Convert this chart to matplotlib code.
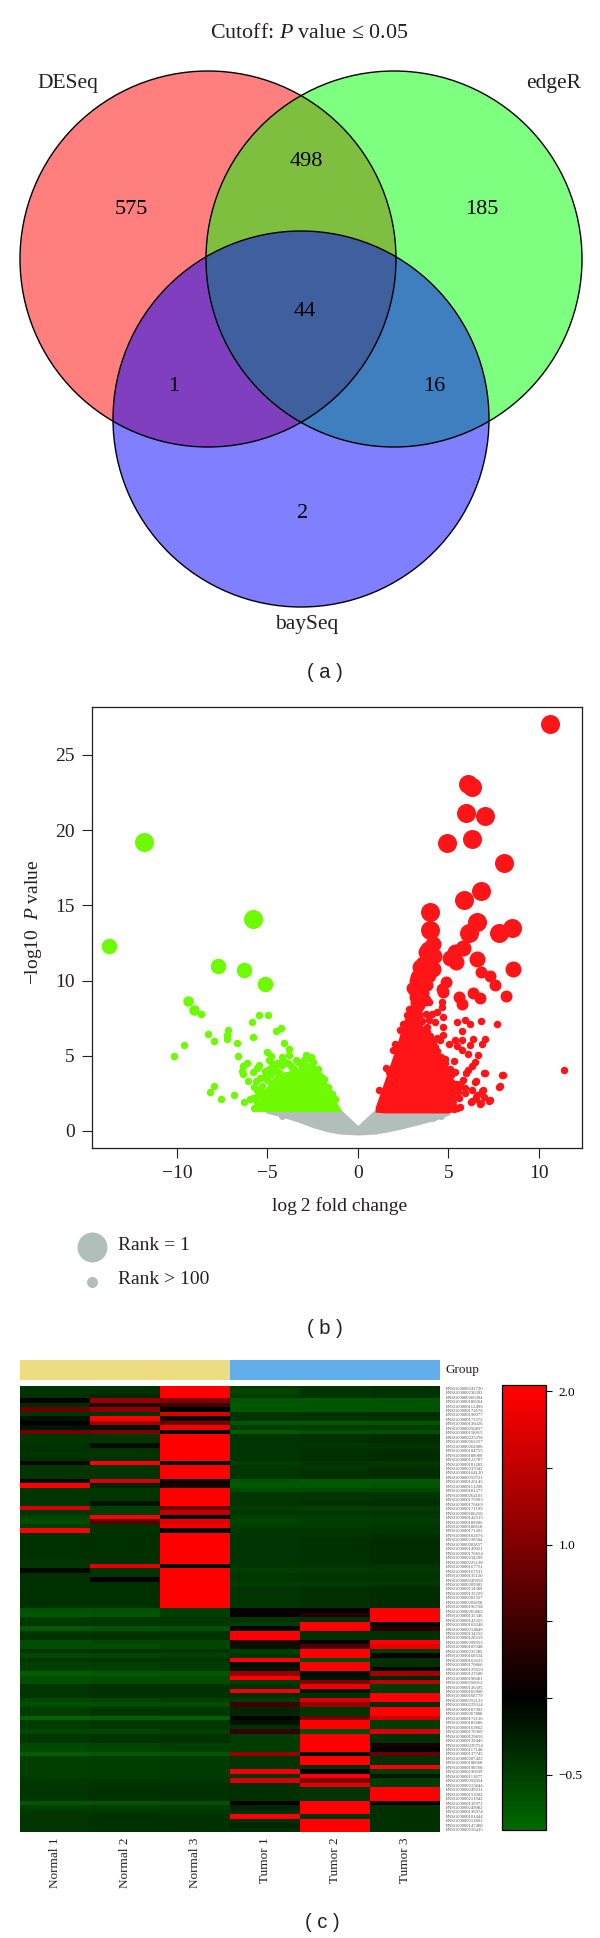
import numpy as np
import matplotlib
matplotlib.use("Agg")
import matplotlib.pyplot as plt
from matplotlib.patches import Circle
from matplotlib.colors import LinearSegmentedColormap, Normalize
from matplotlib.cm import ScalarMappable

plt.rcParams["font.family"] = ["Liberation Serif", "DejaVu Sans"]
plt.rcParams["mathtext.fontset"] = "custom"
plt.rcParams["mathtext.rm"] = "Liberation Serif"
plt.rcParams["mathtext.it"] = "Liberation Serif:italic"
plt.rcParams["mathtext.bf"] = "Liberation Serif:bold"
plt.rcParams["text.color"] = "#231F20"

# =========================
# Data (a) venn counts
# =========================
venn_names = ["DESeq", "edgeR", "baySeq"]
venn_counts = [575, 498, 185, 44, 1, 16, 2]

# =========================
# Data (b) volcano
# =========================
gray_x = [-5.1, -4.25, -3.2, -2.55, -1.7, -1.0, 0.0, 1.0, 1.7, 2.55, 3.6, 4.25, 5.1]
gray_top = [1.4, 1.4, 1.4, 1.4, 1.4, 1.5, 0.37, 1.5, 1.4, 1.4, 1.4, 1.4, 1.4]
gray_low = [1.2, 0.95, 0.55, 0.25, -0.05, -0.2, -0.27, -0.2, -0.05, 0.17, 0.5, 0.7, 1.1]
gray_extra_x = [-4.2, 4.15, 4.6]
gray_extra_y = [1.0, 0.85, 1.0]

green_x = [-5.64, -5.32, -4.89, -4.47, -3.94, -3.4, -2.77, -2.23, -1.81, -1.38, -0.96]
green_top = [1.58, 2.42, 3.27, 3.83, 3.97, 4.11, 4.54, 3.97, 2.99, 2.28, 1.49]
green_low = [1.3, 1.3, 1.3, 1.3, 1.3, 1.3, 1.3, 1.3, 1.3, 1.3, 1.3]

green_big_x = [-11.81, -5.81]
green_big_y = [19.24, 14.11]
green_mid_x = [-13.75, -7.72, -6.28, -5.15]
green_mid_y = [12.28, 10.96, 10.73, 9.8]
green_low_x = [-9.38, -9.07]
green_low_y = [8.64, 8.06]
green_small_x = [-8.68, -5.84, -5.48, -4.98, -8.26, -7.17, -7.25, -7.25, -7.95, -9.62, -10.16,
                 -6.66, -6.64, -5.79, -4.52, -4.22, -4.06, -3.78, -5.0, -4.78, -4.89, -3.82,
                 -2.86, -2.99, -4.17, -4.46, -6.1, -6.36, -6.4, -6.34, -5.81, -5.6, -5.44,
                 -6.07, -5.72, -7.95, -8.2, -7.58, -6.86, -6.29, -5.94, -5.2, -4.9, -3.55,
                 -5.5, -5.3, -4.6, -4.2, -3.7, -3.1, -2.5, -2.35, -1.95, -1.6, -5.75, -5.55,
                 -5.65, -5.4, -5.6, -5.25, -5.0, -4.85, -5.15, -4.7, -4.4, -4.05, -3.85, -3.4,
                 -3.2, -2.75, -2.6, -2.2, -2.05, -1.85, -1.65, -1.45, -1.25, -2.95, -3.3, -4.75,
                 -5.45, -5.8, -5.35, -4.35, -3.6, -2.7, -2.45, -2.15]
green_small_y = [7.77, 7.26, 7.69, 7.71, 6.45, 6.73, 6.38, 6.11, 5.96, 5.71, 4.98,
                 5.82, 5.0, 6.22, 6.62, 6.87, 5.87, 5.43, 5.27, 5.0, 4.7, 5.05,
                 5.03, 4.72, 4.89, 4.5, 4.54, 4.34, 4.01, 3.77, 3.94, 4.16, 4.39,
                 3.32, 2.95, 3.01, 2.61, 2.1, 2.39, 1.93, 2.13, 3.6, 4.1, 4.15,
                 2.4, 3.0, 4.3, 4.4, 4.3, 4.35, 4.2, 3.9, 3.2, 2.6, 1.5, 1.9,
                 3.35, 3.55, 2.75, 2.5, 3.4, 3.75, 4.0, 3.95, 4.55, 4.6, 4.55, 4.7,
                 4.5, 4.85, 4.95, 4.15, 3.6, 3.45, 2.9, 2.45, 2.1, 4.4, 4.6, 4.45,
                 1.75, 2.2, 1.6, 3.9, 4.05, 4.35, 4.6, 3.7]

red_x = [0.96, 1.49, 2.13, 2.55, 3.09, 3.36, 3.6, 4.09, 4.46, 5.0, 5.3, 5.45]
red_top = [1.58, 3.41, 5.66, 7.35, 8.99, 9.4, 7.0, 5.8, 5.14, 4.25, 3.2, 2.2]
red_low = [1.25, 1.2, 1.2, 1.2, 1.2, 1.2, 1.2, 1.2, 1.2, 1.2, 1.3, 1.5]

red_big_x = [10.64, 6.09, 6.34, 5.98, 7.06, 6.34, 4.91, 8.11, 6.79, 5.85, 3.98, 6.62, 4.02, 6.15, 7.83, 8.55]
red_big_y = [27.07, 23.07, 22.85, 21.13, 20.96, 19.4, 19.13, 17.83, 15.97, 15.32, 14.54, 13.86, 13.35, 13.13, 13.18, 13.52]
red_mid_x = [4.18, 3.91, 4.24, 3.82, 3.63, 4.15, 3.54, 3.35, 5.81, 5.38, 5.11, 5.44, 6.6, 8.57,
             3.75, 3.45, 3.3, 3.9, 3.6, 3.4]
red_mid_y = [12.4, 12.11, 11.6, 11.34, 11.12, 10.79, 10.68, 10.23, 12.18, 11.89, 11.52, 11.23, 11.45, 10.79,
             11.9, 10.9, 10.0, 10.4, 10.2, 9.6]
red_low_x = [3.17, 2.99, 6.8, 7.32, 7.6, 4.89, 4.65, 6.38, 6.77, 8.17, 5.57, 5.79, 4.74, 3.17,
             3.8, 3.6, 3.2, 3.4, 3.1, 3.7, 3.3]
red_low_y = [9.68, 9.52, 10.56, 10.28, 9.68, 9.9, 9.46, 9.17, 8.86, 8.97, 8.9, 8.46, 9.24, 8.9,
             9.7, 9.2, 8.6, 8.4, 9.3, 8.7, 7.7]
red_small_x = [4.65, 3.95, 3.36, 4.09, 4.65, 4.37, 4.74, 4.28, 4.7, 3.82, 5.51, 5.94, 6.23, 6.8, 7.69,
               5.79, 3.87, 4.7, 4.55, 4.15, 5.35, 5.75, 6.38, 7.04, 5.07, 5.48, 6.18, 6.86, 5.75, 6.12,
               6.67, 5.33, 4.83, 4.55, 6.49, 6.3, 6.12, 7.04, 5.99, 5.38, 5.11, 8.02, 11.38, 7.87, 6.53,
               5.84, 5.48, 5.14, 6.3, 5.94, 6.91, 7.0, 6.58, 6.32, 7.32, 6.77, 6.55, 6.28, 6.53, 6.79,
               7.28, 6.85, 6.49, 5.91, 5.53, 5.06, 5.32, 7.83, 7.98, 6.98, 3.1, 3.4, 3.75, 3.95, 4.4,
               3.55, 3.8, 3.65, 4.0, 4.25, 4.15, 4.4, 4.6, 4.8, 4.95, 5.15, 5.3, 5.45, 5.6, 5.2,
               5.65, 5.5, 5.7, 4.9, 4.35, 3.9, 2.7, 2.35, 1.95, 1.55, 1.2, 2.85, 2.5, 2.05, 1.7]
red_small_y = [8.57, 8.57, 8.13, 7.8, 8.24, 7.9, 7.57, 7.24, 6.91, 6.91, 7.24, 7.35, 7.13, 7.31, 7.09,
               6.62, 6.29, 6.36, 6.07, 5.91, 6.07, 6.02, 6.13, 6.13, 5.8, 5.63, 5.69, 5.76, 5.36, 5.14,
               5.07, 4.65, 4.81, 4.92, 4.58, 4.3, 4.03, 3.88, 3.88, 3.92, 4.14, 3.72, 4.07, 2.97, 3.3,
               3.37, 3.15, 3.26, 2.7, 2.55, 2.7, 2.26, 2.37, 1.97, 2.04, 1.82, 2.15, 1.94, 2.28, 1.86,
               2.0, 2.68, 3.27, 2.85, 2.56, 1.86, 1.44, 2.93, 3.69, 3.86, 9.4, 8.6, 7.8, 7.4, 6.2,
               7.3, 6.6, 6.0, 6.3, 5.6, 5.1, 5.3, 4.9, 4.5, 3.9, 3.7, 3.1, 2.9, 2.2, 2.3,
               1.6, 1.5, 3.0, 3.4, 3.8, 4.4, 7.7, 6.7, 5.4, 4.2, 2.7, 8.1, 7.1, 5.8, 3.9]

x_ticks = [-10, -5, 0, 5, 10]
y_ticks = [0, 5, 10, 15, 20, 25]
rank_labels = ["Rank = 1", "Rank > 100"]

# =========================
# Data (c) heatmap
# =========================
samples = ["Normal 1", "Normal 2", "Normal 3", "Tumor 1", "Tumor 2", "Tumor 3"]

normal1 = [-.42, -.42, -.38, 0, -.35, .8, -.42, -.15, 0, -.15,
           .9, -.42, -.42, -.4, -.4, -.42, -.38, -.08, -.42, -.42,
           -.42, .1, 2, -.45, -.42, -.42, -.42, 1.7, -.42, -.55,
           -.62, -.48, 2, -.4, -.38, -.38, -.38, -.38, -.38, -.42,
           -.42, -.05, -.38, -.38, -.38, -.4, -.38, -.38, -.38, -.38,
           -.68, -.72, -.48, -.45, -.72, -.44, -.4, -.62, -.62, -.44,
           -.58, -.44, -.52, -.52, -.75, -.64, -.64, -.42, -.42, -.42,
           -.58, -.64, -.48, -.48, -.8, -.48, -.48, -.58, -.44, -.44,
           -.58, -.58, -.75, -.52, -.52, -.52, -.52, -.52, -.46, -.42,
           -.42, -.42, -.42, -.7, -.52, -.46, -.42, -.42, -.42, -.42]
normal2 = [-.4, -.4, -.3, 1.2, .3, 1.1, -.42, 2, 1.3, -.15,
           1.0, -.42, -.42, -.1, -.4, -.42, -.38, 2, -.42, -.42,
           -.42, 1.7, -.3, -.45, -.42, -.42, -.15, -.5, -.5, 2,
           .7, -.38, -.4, -.38, -.38, -.38, -.38, -.38, -.38, -.38,
           1.8, -.42, -.42, 0, -.38, -.4, -.38, -.38, -.38, -.38,
           -.66, -.7, -.46, -.44, -.68, -.42, -.38, -.58, -.6, -.42,
           -.56, -.4, -.5, -.5, -.72, -.62, -.62, -.4, -.4, -.4,
           -.56, -.62, -.44, -.44, -.78, -.44, -.44, -.56, -.4, -.4,
           -.56, -.56, -.72, -.5, -.5, -.5, -.5, -.5, -.44, -.4,
           -.4, -.4, -.4, -.68, -.5, -.44, -.4, -.4, -.4, -.4]
normal3 = [2, 2, 2, 1.0, .5, 0, 1.7, .1, .9, 1.9,
           0, 2, 2, 2, 2, 2, 2, -.15, 2, 2,
           2, .05, .2, 2, 2, 2, 2, .9, 1.5, 0,
           1.8, 1.9, 0, 2, 2, 2, 2, 2, 2, 2,
           -.1, 2, 2, 2, 2, 2, 2, 2, 2, 2,
           -.5, -.52, -.44, -.44, -.65, -.42, -.4, -.56, -.56, -.42,
           -.52, -.4, -.48, -.48, -.7, -.6, -.6, -.4, -.4, -.4,
           -.52, -.6, -.44, -.44, -.75, -.44, -.44, -.52, -.4, -.4,
           -.52, -.52, -.7, -.48, -.48, -.48, -.48, -.48, -.44, -.4,
           -.4, -.4, -.4, -.65, -.48, -.44, -.4, -.4, -.4, -.4]
tumor1 = [-.48, -.55, -.48, -.7, -.72, -.7, -.42, -.42, -.7, -.5,
          -.72, -.42, -.42, -.42, -.42, -.42, -.42, -.5, -.45, -.42,
          -.42, -.7, -.72, -.6, -.45, -.45, -.42, -.5, -.45, -.5,
          -.55, -.5, -.45, -.45, -.42, -.42, -.42, -.42, -.42, -.42,
          -.45, -.5, -.45, -.45, -.5, -.42, -.42, -.42, -.42, -.42,
          .05, .05, -.42, -.48, 0, 2, 2, .3, -.15, -.5,
          -.42, 2, -.1, -.15, 1.2, 2, -.5, -.38, 1.9, -.38,
          -.48, .5, -.3, -.3, 0, -.15, -.38, .4, -.48, -.48,
          -.48, -.48, 1.2, -.42, -.42, -.42, 1.9, -.42, 1.7, -.38,
          -.38, -.38, -.38, 0, -.3, -.38, 2, -.38, -.3, -.38]
tumor2 = [-.42, -.42, -.42, -.7, -.7, -.7, -.38, -.42, -.7, -.5,
          -.65, -.38, -.38, -.42, -.4, -.38, -.38, -.45, -.42, -.38,
          -.38, -.72, -.72, -.6, -.42, -.42, -.38, -.5, -.42, -.48,
          -.5, -.48, -.42, -.42, -.38, -.38, -.38, -.38, -.38, -.38,
          -.42, -.48, -.42, -.42, -.48, -.38, -.38, -.38, -.38, -.38,
          0, .3, -.38, 2, 2, -.38, -.38, 0, .6, 2,
          2, -.62, 2, 2, -.1, -.15, 1.0, 1.9, -.15, -.38,
          1.7, 1.2, -.42, -.42, .9, 2, 2, -.62, 2, 2,
          2, 2, 0, 2, 2, -.38, 0, 2, 1.0, 1.8,
          -.42, -.42, -.42, 2, 2, 2, -.42, 2, 2, 2]
tumor3 = [-.4, -.4, -.4, -.68, -.7, -.68, -.36, -.42, -.7, -.48,
          -.65, -.36, -.36, -.42, -.38, -.36, -.36, -.45, -.4, -.36,
          -.36, -.72, -.7, -.58, -.42, -.42, -.36, -.48, -.42, -.46,
          -.5, -.46, -.42, -.4, -.36, -.36, -.36, -.36, -.36, -.36,
          -.42, -.46, -.42, -.42, -.46, -.36, -.36, -.36, -.36, -.36,
          2, 2, 2, 0, .3, -.38, -.38, 2, 1.8, -.48,
          .1, -.38, -.38, 0, 1.3, -.3, 1.5, -.48, -.48, 2,
          2, -.38, 2, 2, 1.6, -.48, -.48, 1.7, -.38, -.38,
          .2, 0, .8, -.38, -.38, 2, -.48, -.2, -.48, -.48,
          2, 2, 2, 0, -.38, -.38, -.38, -.38, -.38, -.38]

gene_numbers = ["241720", "236393", "266304", "180264", "112499", "174576", "198077", "173372", "136026", "256837",
                "158815", "225258", "263257", "262006", "104755", "188089", "122787", "101282", "237042", "164120",
                "259721", "126145", "111209", "181577", "264101", "179993", "176669", "171199", "186250", "142515",
                "189906", "180618", "171201", "162676", "230584", "203857", "149021", "176654", "234399", "225128",
                "167751", "167531", "135120", "249956", "209903", "134389", "135229", "203367", "203858", "196728",
                "265862", "135346", "143355", "169248", "214849", "134252", "128559", "099953", "105948", "235385",
                "168334", "163623", "170866", "129559", "123500", "198681", "258012", "136395", "169900", "168779",
                "255123", "229314", "187902", "267888", "172136", "185686", "163862", "170369", "129656", "139445",
                "229754", "117148", "137745", "207422", "108668", "198768", "236039", "111877", "092054", "215844",
                "249231", "153002", "211942", "139971", "249082", "136974", "101444", "211891", "147400", "216415"]

cbar_ticks = [2.0, 1.5, 1.0, 0.5, 0.0, -0.5]
cbar_labels = ["2.0", "", "1.0", "", "", "\u22120.5"]

# =========================
# Figure in pixel layout
# =========================
W, H = 600, 1938
fig = plt.figure(figsize=(W / 100, H / 100), dpi=100)


def box(left, top, right, bottom):
    return [left / W, 1 - bottom / H, (right - left) / W, (bottom - top) / H]


def d(px):
    # marker area from a diameter in pixels
    return (px * 0.72) ** 2


# page axes for the venn and the loose texts, in pixels
page = fig.add_axes([0, 0, 1, 1])
page.set_xlim(0, W)
page.set_ylim(H, 0)
page.axis("off")

# =========================
# (a) Venn
# =========================
centers = [(208, 259), (394, 259), (301, 419)]
for c, col in zip(centers, ["#FF0000", "#00FF00", "#0000FF"]):
    page.add_patch(Circle(c, 188, facecolor=col, edgecolor="none", alpha=0.5))
for c in centers:
    page.add_patch(Circle(c, 188, facecolor="none", edgecolor="black", lw=1.0))

page.text(309, 33.5, r"Cutoff: $\mathit{P}$ value ≤ 0.05", fontsize=15.8, ha="center", va="center")
name_pos = [(68, 83), (554, 83), (306.5, 625)]
for n, p in zip(venn_names, name_pos):
    page.text(p[0], p[1], n, fontsize=15.5, ha="center", va="center")
count_pos = [(131.5, 209), (306.5, 161.5), (482, 209), (305, 311), (173.5, 386), (434.6, 386), (303, 514)]
for n, p in zip(venn_counts, count_pos):
    page.text(p[0], p[1], str(n), fontsize=16, ha="center", va="center", color="black")

for lab, y, x in [("( a )", 673, 325), ("( b )", 1328, 325), ("( c )", 1922, 322)]:
    page.text(x, y, lab, fontsize=14.5, family="Liberation Sans", ha="center", va="center")

# =========================
# (b) Volcano
# =========================
ax = fig.add_axes(box(92, 707, 582, 1148))
gray_c = "#B2BEBA"
green_c = "#6EFA00"
red_c = "#FF1418"

ax.fill_between(gray_x, gray_low, gray_top, color=gray_c, lw=0, zorder=1)
ax.scatter(gray_extra_x, gray_extra_y, s=d(7), color=gray_c, lw=0, zorder=1)

ax.fill_between(green_x, green_low, green_top, color=green_c, lw=0, zorder=2)
ax.scatter(green_big_x, green_big_y, s=d(19), color=green_c, lw=0, zorder=2)
ax.scatter(green_mid_x, green_mid_y, s=d(15.5), color=green_c, lw=0, zorder=2)
ax.scatter(green_low_x, green_low_y, s=d(10.5), color=green_c, lw=0, zorder=2)
ax.scatter(green_small_x, green_small_y, s=d(7.5), color=green_c, lw=0, zorder=2)

ax.fill_between(red_x, red_low, red_top, color=red_c, lw=0, zorder=2)
ax.scatter(red_big_x, red_big_y, s=d(19), color=red_c, lw=0, zorder=2)
ax.scatter(red_mid_x, red_mid_y, s=d(16), color=red_c, lw=0, zorder=2)
ax.scatter(red_low_x, red_low_y, s=d(12), color=red_c, lw=0, zorder=2)
ax.scatter(red_small_x, red_small_y, s=d(7.5), color=red_c, lw=0, zorder=2)

ax.set_xlim(-14.7, 12.4)
ax.set_ylim(-1.13, 28.18)
ax.set_xticks(x_ticks)
ax.set_yticks(y_ticks)
ax.tick_params(length=7.5, width=0.8, labelsize=14, pad=5, color="#231F20", labelcolor="#231F20")
for s in ax.spines.values():
    s.set_linewidth(0.9)
    s.set_color("#231F20")

page.text(340, 1206, "log\u20092 fold change", fontsize=14, ha="center", va="center")
page.text(33, 922, r"$-$log10  $\mathit{P}$ value", fontsize=14, rotation=90, ha="center", va="center")

page.scatter([92], [1247], s=d(30), color=gray_c, lw=0)
page.scatter([92], [1282], s=d(11), color=gray_c, lw=0)
page.text(118, 1246, rank_labels[0], fontsize=14, ha="left", va="center")
page.text(118, 1280, rank_labels[1], fontsize=14, ha="left", va="center")

# =========================
# (c) Heatmap
# =========================
vmin, vmax = -0.86, 2.04
zero = (0 - vmin) / (vmax - vmin)
cmap = LinearSegmentedColormap.from_list(
    "gbr", [(0, "#006A00"), (zero, "#000000"), (2.0 / vmax * (1 - zero) + zero, "#FF0000"), (1, "#FF0000")])
norm = Normalize(vmin, vmax)

group_ax = fig.add_axes(box(20, 1360, 440, 1380))
group_ax.barh([0], [3], left=[0], height=1, color="#EEDC82")
group_ax.barh([0], [3], left=[3], height=1, color="#62ADEC")
group_ax.set_xlim(0, 6)
group_ax.set_ylim(-0.5, 0.5)
group_ax.axis("off")
page.text(446, 1369.5, "Group", fontsize=9.5, ha="left", va="center")

matrix = np.array([normal1, normal2, normal3, tumor1, tumor2, tumor3]).T
hm = fig.add_axes(box(20, 1386, 440, 1832))
hm.imshow(matrix, cmap=cmap, norm=norm, aspect="auto", interpolation="nearest")
hm.set_xticks(range(6))
hm.set_xticklabels(samples, rotation=90, fontsize=9.5, color="#231F20")
hm.set_yticks(range(100))
hm.set_yticklabels(["ENSG00000" + g for g in gene_numbers], fontsize=3.4, color="#555555")
hm.yaxis.tick_right()
hm.tick_params(length=0)
hm.tick_params(axis="x", pad=4)
hm.tick_params(axis="y", pad=4)
for s in hm.spines.values():
    s.set_visible(False)

cax = fig.add_axes(box(502, 1385, 546, 1830))
cb = fig.colorbar(ScalarMappable(norm=norm, cmap=cmap), cax=cax)
cb.set_ticks(cbar_ticks)
cb.set_ticklabels(cbar_labels)
cb.ax.tick_params(length=4, width=0.8, labelsize=9.5, pad=5)
cb.outline.set_linewidth(0.9)

fig.savefig("out.png", dpi=100)
